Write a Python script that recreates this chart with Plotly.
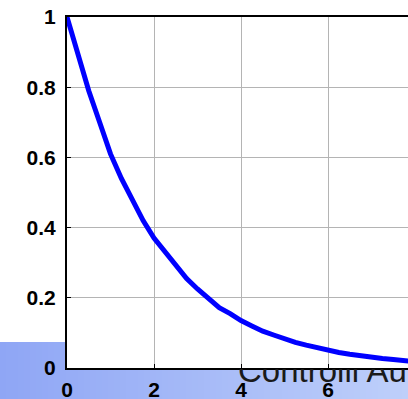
import plotly.graph_objects as go

t = [0, 0.25, 0.5, 0.75, 1.0, 1.25, 1.5, 1.75, 2.0, 2.25, 2.5, 2.75, 3.0, 3.25, 3.5,
     3.75, 4.0, 4.25, 4.5, 4.75, 5.0, 5.25, 5.5, 5.75, 6.0, 6.25, 6.5, 6.75, 7.0, 7.25,
     7.5, 7.75, 8.0]
y = [1.0, 0.89, 0.79, 0.70, 0.61, 0.54, 0.48, 0.42, 0.37, 0.33, 0.29, 0.255, 0.225,
     0.20, 0.172, 0.155, 0.135, 0.12, 0.105, 0.094, 0.083, 0.073, 0.065, 0.057, 0.050,
     0.044, 0.039, 0.034, 0.030, 0.027, 0.024, 0.021, 0.018]
xticks = [0, 2, 4, 6]
yticks = [0, 0.2, 0.4, 0.6, 0.8, 1]
ytick_labels = ["0", "0.2", "0.4", "0.6", "0.8", "1"]
footer_text = ["Controlli Automatici"]

W, H = 408, 399
T = 17
PH = H - T              # paper height (margins l=r=b=0)
X0, Y0 = 67, 368        # plot area origin in pixels
px_per_unit = 43.5
FONT = "Liberation Sans, Arial, sans-serif"

def py(p):  # pixel y -> paper y
    return (H - p) / PH

fig = go.Figure()
fig.add_trace(go.Scatter(x=t, y=y, mode="lines", xaxis="x", yaxis="y",
                         line=dict(color="#0000ff", width=5), showlegend=False,
                         hoverinfo="skip"))

# footer text, clipped to the band below the axis
fig.add_trace(go.Scatter(x=[238], y=[374], xaxis="x2", yaxis="y2", mode="text",
                         text=footer_text, textposition="middle right",
                         textfont=dict(family=FONT, size=33, color="#1a1a1a"),
                         cliponaxis=True, showlegend=False, hoverinfo="skip"))

# gradient band (styling)
def col(f):
    c0 = (0x8f, 0xa6, 0xf5)
    c1 = (0xbe, 0xcf, 0xfa)
    return "rgb(%d,%d,%d)" % tuple(round(a + (b - a) * f) for a, b in zip(c0, c1))

shapes = []
N = 68
for i in range(N):
    x0 = W * i / N
    x1 = W * (i + 1) / N + 0.6
    c = col(i / (N - 1))
    shapes.append(dict(type="rect", xref="paper", yref="paper", layer="below",
                       x0=x0 / W, x1=x1 / W, y0=py(H), y1=py(Y0),
                       line=dict(width=0), fillcolor=c))
    if x0 < X0:
        shapes.append(dict(type="rect", xref="paper", yref="paper", layer="below",
                           x0=x0 / W, x1=min(x1, X0) / W, y0=py(Y0), y1=py(342),
                           line=dict(width=0), fillcolor=c))
fig.update_layout(shapes=shapes)

tickfont = dict(size=21, family=FONT, weight="bold", color="black")
fig.update_layout(
    width=W, height=H, autosize=False,
    margin=dict(l=0, r=0, t=T, b=0, pad=0, autoexpand=False),
    paper_bgcolor="white", plot_bgcolor="white",
    font=dict(family=FONT, size=21, color="black"),
    xaxis=dict(domain=[X0 / W, 1], range=[0, (W - X0) / px_per_unit],
               tickvals=xticks, ticktext=[str(v) for v in xticks],
               showgrid=True, gridcolor="#b4b4b4", gridwidth=1,
               showline=True, linecolor="black", linewidth=2, mirror=True,
               ticks="inside", ticklen=4, tickcolor="black", tickfont=tickfont,
               ticklabelstandoff=2, automargin=False,
               zeroline=False, fixedrange=True),
    yaxis=dict(domain=[py(Y0), 1], range=[0, 1], tickvals=yticks, ticktext=ytick_labels,
               showgrid=True, gridcolor="#b4b4b4", gridwidth=1,
               showline=True, linecolor="black", linewidth=2, mirror=False,
               ticks="inside", ticklen=4, tickcolor="black", tickfont=tickfont,
               ticklabelstandoff=5, automargin=False,
               zeroline=False, fixedrange=True),
    xaxis2=dict(domain=[0, 1], range=[0, W], visible=False, fixedrange=True,
                anchor="y2", automargin=False),
    yaxis2=dict(domain=[0, py(Y0 + 1)], range=[H, Y0 + 1], visible=False,
                fixedrange=True, anchor="x2", automargin=False),
)

fig.write_html("out.html", config=dict(displayModeBar=False))
